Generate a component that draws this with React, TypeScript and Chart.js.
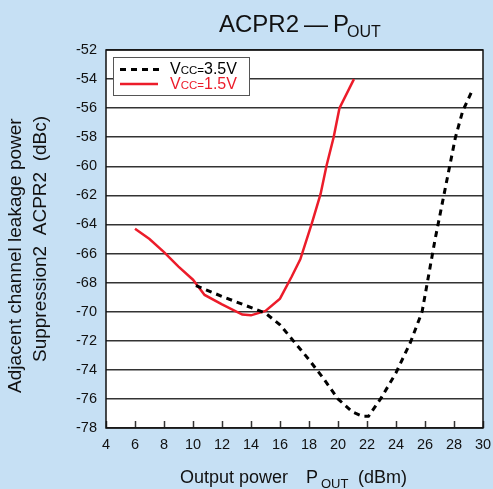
import React, { useEffect, useRef } from "react";
import { Chart, registerables } from "chart.js";

Chart.register(...registerables);

// Vcc = 3.5 V (black dashed)
const v35X = [10.2, 12, 13.7, 15, 16, 17, 18, 19, 20, 21, 21.7, 22.1, 23, 24, 25, 25.8, 26.7, 27.3, 27.7, 28.1, 28.6, 29.2];
const v35Y = [-68.2, -68.95, -69.6, -70.1, -70.9, -72.1, -73.3, -74.6, -76.0, -76.9, -77.2, -77.2, -75.9, -74.2, -72.1, -70.0, -65.0, -62.0, -60.0, -58.0, -56.2, -54.9];

// Vcc = 1.5 V (red solid)
const v15X = [6, 7, 8, 9, 10, 10.8, 12, 13.4, 14, 15, 16, 16.8, 17.4, 18.2, 18.8, 19.2, 19.7, 20.1, 21.1];
const v15Y = [-64.3, -65.0, -65.9, -66.9, -67.8, -68.85, -69.5, -70.2, -70.25, -69.95, -69.1, -67.6, -66.4, -63.9, -61.9, -60.0, -58.0, -56.0, -54.0];

const xTicks = [4, 6, 8, 10, 12, 14, 16, 18, 20, 22, 24, 26, 28, 30];
const yTicks = [-78, -76, -74, -72, -70, -68, -66, -64, -62, -60, -58, -56, -54, -52];

const BG = "#c6e0f4";
const RED = "#ec1c2a";
const FONT = "'Liberation Sans', Arial, sans-serif";

const zip = (xs: number[], ys: number[]) => xs.map((x, i) => ({ x, y: ys[i] }));

export default function App() {
  const ref = useRef<HTMLCanvasElement | null>(null);

  useEffect(() => {
    document.body.style.margin = "0";
    const canvas = ref.current!;
    const decor = {
      id: "decor",
      beforeDraw(chart: any) {
        const { ctx, chartArea: a } = chart;
        ctx.save();
        ctx.fillStyle = BG;
        ctx.fillRect(0, 0, chart.width, chart.height);
        ctx.fillStyle = "#ffffff";
        ctx.fillRect(a.left, a.top, a.right - a.left, a.bottom - a.top);
        ctx.restore();
      },
      afterDatasetsDraw(chart: any) {
        const { ctx, chartArea: a } = chart;
        const xs = chart.scales.x;
        ctx.save();
        // inner x ticks
        ctx.strokeStyle = "#333";
        ctx.lineWidth = 1.5;
        xTicks.forEach((v) => {
          const px = Math.round(xs.getPixelForValue(v)) + 0.5;
          ctx.beginPath();
          ctx.moveTo(px, a.bottom);
          ctx.lineTo(px, a.bottom - 7);
          ctx.stroke();
        });
        // plot border
        ctx.strokeStyle = "#111";
        ctx.lineWidth = 1.5;
        ctx.strokeRect(a.left, a.top, a.right - a.left, a.bottom - a.top);

        // legend
        ctx.fillStyle = "#ffffff";
        ctx.fillRect(113, 57, 136, 38);
        ctx.strokeStyle = "#555";
        ctx.lineWidth = 1;
        ctx.strokeRect(113.5, 57.5, 136, 38);
        ctx.lineWidth = 3;
        ctx.strokeStyle = "#000";
        ctx.setLineDash([6, 5]);
        ctx.beginPath();
        ctx.moveTo(120, 69.5);
        ctx.lineTo(160, 69.5);
        ctx.stroke();
        ctx.setLineDash([]);
        ctx.strokeStyle = RED;
        ctx.lineWidth = 2.5;
        ctx.beginPath();
        ctx.moveTo(120, 84);
        ctx.lineTo(158, 84);
        ctx.stroke();
        const legText = (y: number, color: string, val: string) => {
          ctx.fillStyle = color;
          ctx.textBaseline = "alphabetic";
          ctx.textAlign = "left";
          let x = 170;
          ctx.font = `16px ${FONT}`;
          ctx.fillText("V", x, y);
          x += ctx.measureText("V").width;
          ctx.font = `11.5px ${FONT}`;
          ctx.fillText("CC=", x, y);
          x += ctx.measureText("CC=").width;
          ctx.font = `16px ${FONT}`;
          ctx.fillText(val, x, y);
        };
        legText(74, "#000", "3.5V");
        legText(89, RED, "1.5V");

        // title
        ctx.fillStyle = "#111";
        ctx.textAlign = "left";
        ctx.textBaseline = "alphabetic";
        ctx.font = `24px ${FONT}`;
        ctx.fillText("ACPR2", 219, 32);
        ctx.fillText("\u2014", 304, 32);
        ctx.fillText("P", 333, 32);
        ctx.font = `16px ${FONT}`;
        ctx.fillText("OUT", 347, 37);

        // x title
        ctx.font = `18px ${FONT}`;
        ctx.fillText("Output power", 180, 483);
        ctx.fillText("P", 306, 483);
        ctx.fillText("(dBm)", 358, 483);
        ctx.font = `13px ${FONT}`;
        ctx.fillText("OUT", 321, 488);

        // y titles
        ctx.save();
        ctx.translate(21, 393);
        ctx.rotate(-Math.PI / 2);
        ctx.font = `19px ${FONT}`;
        ctx.fillText("Adjacent channel leakage power", 0, 0);
        ctx.restore();
        ctx.save();
        ctx.translate(46, 362);
        ctx.rotate(-Math.PI / 2);
        ctx.font = `19px ${FONT}`;
        ctx.fillText("Suppression2  ACPR2  (dBc)", 0, 0);
        ctx.restore();

        ctx.restore();
      },
    };

    const chart = new Chart(canvas, {
      type: "line",
      data: {
        datasets: [
          {
            label: "Vcc=3.5V",
            data: zip(v35X, v35Y),
            borderColor: "#000",
            borderWidth: 3,
            borderDash: [6, 5],
            pointRadius: 0,
            fill: false,
            tension: 0,
          },
          {
            label: "Vcc=1.5V",
            data: zip(v15X, v15Y),
            borderColor: RED,
            borderWidth: 2.5,
            pointRadius: 0,
            fill: false,
            tension: 0,
          },
        ],
      },
      options: {
        responsive: false,
        animation: false,
        devicePixelRatio: 1,
        layout: { padding: { top: 50, right: 0, left: 0, bottom: 0 } },
        plugins: { legend: { display: false }, title: { display: false }, tooltip: { enabled: false } },
        scales: {
          x: {
            type: "linear",
            min: 4,
            max: 30,
            afterBuildTicks: (s: any) => {
              s.ticks = xTicks.map((v) => ({ value: v }));
            },
            afterFit: (s: any) => {
              s.height = 61;
              s.paddingRight = 10;
              s.paddingLeft = 0;
            },
            grid: { display: false, drawTicks: false },
            border: { display: false },
            ticks: {
              color: "#111",
              font: { family: FONT, size: 14.5 },
              padding: 8,
              maxRotation: 0,
              autoSkip: false,
            },
          },
          y: {
            type: "linear",
            min: -78,
            max: -52,
            afterBuildTicks: (s: any) => {
              s.ticks = yTicks.map((v) => ({ value: v }));
            },
            afterFit: (s: any) => {
              s.width = 106;
              s.paddingTop = 0;
              s.paddingBottom = 0;
            },
            grid: { color: "#333", lineWidth: 1.5, drawTicks: false },
            border: { display: false },
            ticks: {
              color: "#111",
              font: { family: FONT, size: 14.5 },
              padding: 9,
              autoSkip: false,
            },
          },
        },
      },
      plugins: [decor],
    });
    return () => chart.destroy();
  }, []);

  return (
    <div style={{ position: "absolute", left: 0, top: 0, width: 493, height: 489, background: BG }}>
      <canvas ref={ref} width={493} height={489} style={{ display: "block", width: 493, height: 489 }} />
    </div>
  );
}
